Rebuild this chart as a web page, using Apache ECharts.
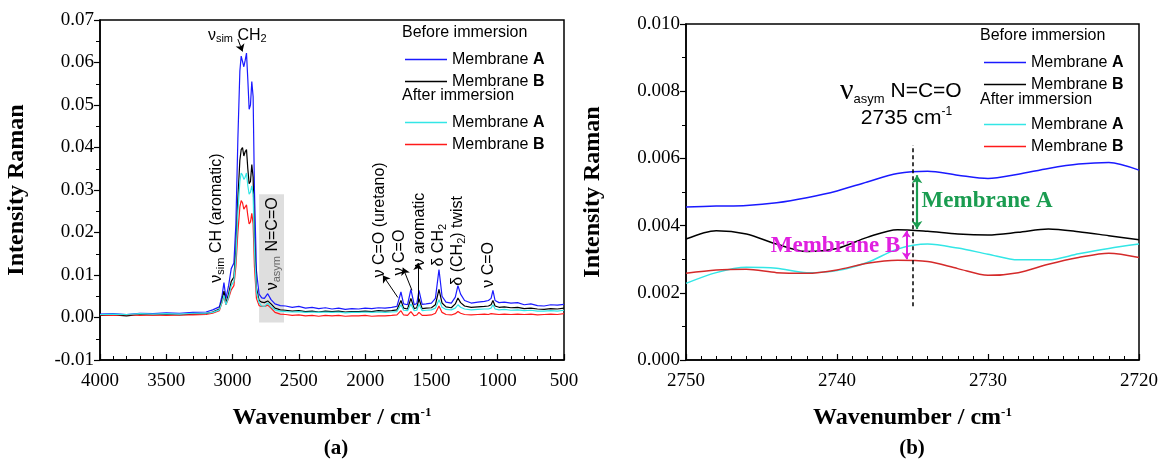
<!DOCTYPE html>
<html>
<head>
<meta charset="utf-8">
<script src="https://cdn.jsdelivr.net/npm/echarts@6/dist/echarts.min.js"></script>
<style>
  html, body { margin: 0; padding: 0; background: #fff; }
  #main { width: 1161px; height: 463px; }
</style>
</head>
<body>
<div id="main"></div>
<script>
// (a) full spectrum, wavenumber / cm-1
var wnFull = [4000, 3900, 3800, 3700, 3600, 3500, 3400, 3300, 3200,
  3150, 3100, 3080, 3065, 3050, 3030, 3010, 2990, 2975, 2960,
  2945, 2935, 2925, 2915, 2905, 2895, 2885, 2875, 2865, 2855,
  2845, 2835, 2820, 2800, 2780, 2760, 2735, 2710, 2680, 2640, 2600,
  2550, 2500, 2450, 2400, 2350, 2300, 2250, 2200, 2150, 2100, 2050, 2000, 1950, 1900, 1850, 1800, 1760,
  1730, 1710, 1680, 1655, 1630, 1610, 1594, 1570, 1540, 1500,
  1470, 1443, 1420, 1390, 1350, 1320, 1300, 1280, 1250, 1200,
  1150, 1100, 1070, 1050, 1036, 1020, 990, 950, 900, 850,
  800, 750, 700, 650, 600, 550, 500];
var fullBeforeA = [0.0008, 0.0009, 0.0007, 0.0010, 0.0009, 0.0011, 0.0010, 0.0012, 0.0013,
  0.0018, 0.0025, 0.0050, 0.0082, 0.0045, 0.0075, 0.0115, 0.0128, 0.0220, 0.0420,
  0.0580, 0.0615, 0.0618, 0.0590, 0.0605, 0.0622, 0.0560, 0.0490, 0.0500, 0.0555,
  0.0520, 0.0300, 0.0110, 0.0055, 0.0046, 0.0045, 0.0056, 0.0042, 0.0032, 0.0028, 0.0027,
  0.0024, 0.0026, 0.0022, 0.0024, 0.0021, 0.0023, 0.0020, 0.0022, 0.0019, 0.0021, 0.0020, 0.0022, 0.0021, 0.0023, 0.0022, 0.0024, 0.0026,
  0.0060, 0.0032, 0.0030, 0.0066, 0.0030, 0.0033, 0.0064, 0.0031, 0.0032, 0.0034,
  0.0045, 0.0113, 0.0050, 0.0036, 0.0034, 0.0048, 0.0075, 0.0055, 0.0040, 0.0034,
  0.0036, 0.0038, 0.0040, 0.0045, 0.0064, 0.0040, 0.0035, 0.0036, 0.0034, 0.0035,
  0.0030, 0.0032, 0.0028, 0.0027, 0.0030, 0.0029, 0.0031];
var fullBeforeB = [0.0005, 0.0006, 0.0004, 0.0007, 0.0006, 0.0007, 0.0006, 0.0008, 0.0009,
  0.0013, 0.0020, 0.0040, 0.0062, 0.0035, 0.0055, 0.0085, 0.0095, 0.0160, 0.0280,
  0.0370, 0.0395, 0.0400, 0.0380, 0.0390, 0.0395, 0.0350, 0.0315, 0.0320, 0.0360,
  0.0330, 0.0190, 0.0070, 0.0040, 0.0036, 0.0035, 0.0039, 0.0032, 0.0022, 0.0018, 0.0017,
  0.0015, 0.0016, 0.0014, 0.0015, 0.0013, 0.0015, 0.0014, 0.0015, 0.0013, 0.0014, 0.0014, 0.0015, 0.0014, 0.0016, 0.0015, 0.0016, 0.0018,
  0.0040, 0.0022, 0.0020, 0.0045, 0.0021, 0.0023, 0.0044, 0.0021, 0.0022, 0.0023,
  0.0030, 0.0066, 0.0034, 0.0025, 0.0023, 0.0032, 0.0046, 0.0035, 0.0027, 0.0024,
  0.0025, 0.0026, 0.0027, 0.0030, 0.0040, 0.0027, 0.0024, 0.0025, 0.0023, 0.0024,
  0.0021, 0.0022, 0.0020, 0.0019, 0.0021, 0.0020, 0.0022];
var fullAfterA = [0.0007, 0.0008, 0.0007, 0.0009, 0.0008, 0.0009, 0.0008, 0.0010, 0.0010,
  0.0012, 0.0018, 0.0035, 0.0052, 0.0030, 0.0048, 0.0075, 0.0085, 0.0140, 0.0250,
  0.0320, 0.0340, 0.0335, 0.0325, 0.0330, 0.0340, 0.0310, 0.0290, 0.0295, 0.0310,
  0.0290, 0.0160, 0.0060, 0.0035, 0.0027, 0.0026, 0.0034, 0.0025, 0.0018, 0.0015, 0.0014,
  0.0013, 0.0014, 0.0012, 0.0013, 0.0012, 0.0013, 0.0012, 0.0013, 0.0011, 0.0012, 0.0012, 0.0013, 0.0012, 0.0013, 0.0012, 0.0013, 0.0014,
  0.0030, 0.0017, 0.0016, 0.0032, 0.0016, 0.0017, 0.0031, 0.0016, 0.0017, 0.0018,
  0.0022, 0.0042, 0.0024, 0.0019, 0.0018, 0.0022, 0.0030, 0.0024, 0.0020, 0.0018,
  0.0019, 0.0020, 0.0020, 0.0022, 0.0030, 0.0020, 0.0018, 0.0019, 0.0017, 0.0018,
  0.0016, 0.0017, 0.0015, 0.0015, 0.0016, 0.0015, 0.0017];
var fullAfterB = [0.0006, 0.0005, 0.0007, 0.0005, 0.0006, 0.0005, 0.0006, 0.0006, 0.0007,
  0.0010, 0.0016, 0.0035, 0.0050, 0.0030, 0.0045, 0.0065, 0.0075, 0.0120, 0.0200,
  0.0260, 0.0275, 0.0270, 0.0255, 0.0260, 0.0265, 0.0240, 0.0220, 0.0225, 0.0245,
  0.0220, 0.0120, 0.0045, 0.0028, 0.0026, 0.0026, 0.0029, 0.0022, 0.0012, 0.0008, 0.0007,
  0.0005, 0.0006, 0.0004, 0.0005, 0.0003, 0.0005, 0.0004, 0.0005, 0.0003, 0.0004, 0.0004, 0.0005, 0.0003, 0.0004, 0.0004, 0.0005, 0.0006,
  0.0016, 0.0006, 0.0005, 0.0014, 0.0004, 0.0006, 0.0012, 0.0005, 0.0005, 0.0006,
  0.0010, 0.0027, 0.0012, 0.0007, 0.0006, 0.0009, 0.0014, 0.0010, 0.0007, 0.0006,
  0.0007, 0.0008, 0.0007, 0.0009, 0.0012, 0.0008, 0.0007, 0.0008, 0.0007, 0.0008,
  0.0007, 0.0008, 0.0006, 0.0007, 0.0008, 0.0007, 0.0009];

// (b) zoom on the N=C=O band
var wnZoom = [2750, 2748, 2746, 2744, 2742, 2740, 2738, 2736, 2734, 2732, 2730, 2728, 2726, 2724, 2722, 2720];
var zoomBeforeA = [0.00455, 0.00458, 0.00460, 0.00468, 0.00483, 0.00503, 0.00530, 0.00555, 0.00562, 0.00550, 0.00540, 0.00553, 0.00570, 0.00583, 0.00588, 0.00565];
var zoomBeforeB = [0.00360, 0.00385, 0.00375, 0.00345, 0.00323, 0.00332, 0.00365, 0.00388, 0.00383, 0.00375, 0.00372, 0.00380, 0.00390, 0.00382, 0.00370, 0.00358];
var zoomAfterA = [0.00228, 0.00260, 0.00276, 0.00273, 0.00260, 0.00266, 0.00290, 0.00330, 0.00345, 0.00333, 0.00315, 0.00298, 0.00298, 0.00316, 0.00332, 0.00345];
var zoomAfterB = [0.00258, 0.00268, 0.00270, 0.00260, 0.00258, 0.00268, 0.00288, 0.00297, 0.00293, 0.00272, 0.00252, 0.00260, 0.00285, 0.00305, 0.00318, 0.00305];

var fullTicks = { min: 500, max: 4000, interval: 500 };
var fullYTicks = { min: -0.01, max: 0.07, interval: 0.01 };
var zoomTicks = { min: 2720, max: 2750, interval: 10 };
var zoomYTicks = { min: 0, max: 0.010, interval: 0.002 };

var SERIF = 'Liberation Serif';
var SANS = 'Liberation Sans';

function zip(xs, ys) {
  return xs.map(function(x, i) { return [x, ys[i]]; });
}

function lineSeries(name, gi, xs, ys, color, width, extra) {
  var s = {
    name: name,
    type: 'line',
    xAxisIndex: gi,
    yAxisIndex: gi,
    data: zip(xs, ys),
    showSymbol: false,
    symbol: 'none',
    color: color,
    lineStyle: { color: color, width: width },
    animation: false
  };
  for (var k in extra) s[k] = extra[k];
  return s;
}

// tick labels as rich text so the serif face is forced on each token
var tickRich = { t: { fontFamily: SERIF, fontSize: 19, color: '#000' } };

function xAxisOf(gi, t, split) {
  return {
    type: 'value', gridIndex: gi, inverse: true,
    min: t.min, max: t.max, interval: t.interval,
    name: 'Wavenumber / cm{sup|-1}', nameLocation: 'middle', nameGap: 46,
    nameTextStyle: {
      fontFamily: SERIF, fontWeight: 'bold', fontSize: 24, color: '#000',
      rich: { sup: { fontFamily: SERIF, fontWeight: 'bold', fontSize: 13, verticalAlign: 'top', padding: [0, 0, 10, 0] } }
    },
    axisLine: { onZero: false, lineStyle: { color: '#000', width: 1.5 } },
    axisTick: { inside: true, length: 6, lineStyle: { color: '#000', width: 1.2 } },
    minorTick: { show: true, splitNumber: split, length: 4, lineStyle: { color: '#000', width: 1 } },
    axisLabel: {
      fontFamily: SERIF, fontSize: 19, color: '#000', margin: 12, rich: tickRich,
      formatter: function(v) { return '{t|' + Math.round(v) + '}'; }
    },
    splitLine: { show: false }
  };
}

function yAxisOf(gi, t, gap, digits) {
  return {
    type: 'value', gridIndex: gi,
    min: t.min, max: t.max, interval: t.interval,
    name: 'Intensity Raman', nameLocation: 'middle', nameGap: gap,
    nameTextStyle: { fontFamily: SERIF, fontWeight: 'bold', fontSize: 24, color: '#000' },
    axisLine: { onZero: false, lineStyle: { color: '#000', width: 1.5 } },
    axisTick: { inside: false, length: 6, lineStyle: { color: '#000', width: 1.2 } },
    minorTick: { show: true, splitNumber: 2, length: 4, lineStyle: { color: '#000', width: 1 } },
    axisLabel: {
      fontFamily: SERIF, fontSize: 19, color: '#000', margin: 6, rich: tickRich,
      formatter: function(v) { return '{t|' + (Math.abs(v) < 1e-9 ? 0 : v).toFixed(digits) + '}'; }
    },
    splitLine: { show: false }
  };
}

function legendOf(names, left, top) {
  return {
    data: names, orient: 'vertical', left: left, top: top,
    icon: 'rect', itemWidth: 42, itemHeight: 1.6, itemGap: 5,
    selectedMode: false,
    formatter: function(n) { return 'Membrane {b|' + n.slice(-1) + '}'; },
    textStyle: {
      fontFamily: SANS, fontSize: 16, color: '#000', lineHeight: 17,
      rich: { b: { fontFamily: SANS, fontSize: 16, fontWeight: 'bold', color: '#000' } }
    }
  };
}

var RED_B = '#d42a2a';

var option = {
  backgroundColor: '#fff',
  animation: false,
  textStyle: { fontFamily: SERIF },
  grid: [
    { left: 100, top: 20, width: 464, height: 340, show: true, borderColor: '#000', borderWidth: 1.5 },
    { left: 686, top: 24, width: 453, height: 336, show: true, borderColor: '#000', borderWidth: 1.5 }
  ],
  xAxis: [
    xAxisOf(0, fullTicks, 5),
    xAxisOf(1, zoomTicks, 10)
  ],
  yAxis: [
    yAxisOf(0, fullYTicks, 71, 2),
    yAxisOf(1, zoomYTicks, 81, 3)
  ],
  legend: [
    legendOf(['before A', 'before B'], 400, 46),
    legendOf(['after A', 'after B'], 400, 109),
    legendOf(['before A', 'before B'], 979, 49),
    legendOf(['after A', 'after B'], 979, 111)
  ],
  series: [
    lineSeries('before A', 0, wnFull, fullBeforeA, '#1a1aff', 1.2, {
      markLine: {
        silent: true, symbol: ['none', 'arrow'], symbolSize: 7,
        label: { show: false },
        lineStyle: { color: '#000', width: 1, type: 'solid' },
        data: [
          [{ coord: [2960, 0.0655] }, { coord: [2925, 0.0626] }],
          [{ coord: [1753, 0.0047] }, { coord: [1866, 0.0099] }],
          [{ coord: [1647, 0.0064] }, { coord: [1715, 0.0117] }],
          [{ coord: [1602, 0.0036] }, { coord: [1602, 0.0128] }]
        ]
      }
    }),
    lineSeries('before B', 0, wnFull, fullBeforeB, '#000000', 1.2),
    lineSeries('after B', 0, wnFull, fullAfterB, '#ff1a1a', 1.2),
    lineSeries('after A', 0, wnFull, fullAfterA, '#33e6e6', 1.2, {
      markArea: {
        silent: true,
        itemStyle: { color: 'rgba(200,200,200,0.6)' },
        data: [[{ coord: [2800, 0.029] }, { coord: [2612, -0.0012] }]]
      }
    }),
    lineSeries('before A', 1, wnZoom, zoomBeforeA, '#1a1aff', 1.5, {
      smooth: 0.3,
      markLine: {
        silent: true, symbol: ['none', 'none'],
        label: { show: false },
        data: [
          [{ coord: [2735, 0.0016], lineStyle: { color: '#000', width: 1.5, type: [4, 3] } },
           { coord: [2735, 0.0064] }],
          [{ coord: [2734.7, 0.0055], symbol: 'arrow', symbolSize: 8, lineStyle: { color: '#1a9c50', width: 2.2, type: 'solid' } },
           { coord: [2734.7, 0.0039], symbol: 'arrow', symbolSize: 8 }],
          [{ coord: [2735.4, 0.00385], symbol: 'arrow', symbolSize: 7, lineStyle: { color: '#e020e0', width: 2, type: 'solid' } },
           { coord: [2735.4, 0.00300], symbol: 'arrow', symbolSize: 7 }]
        ]
      }
    }),
    lineSeries('before B', 1, wnZoom, zoomBeforeB, '#000000', 1.5, { smooth: 0.3 }),
    lineSeries('after A', 1, wnZoom, zoomAfterA, '#33e6e6', 1.5, { smooth: 0.3 }),
    lineSeries('after B', 1, wnZoom, zoomAfterB, RED_B, 1.5, { smooth: 0.3 })
  ]
};

var chart = echarts.init(document.getElementById('main'));
chart.setOption(option);

// annotations, anchored in data space
function px(gi, w, v) {
  return chart.convertToPixel({ gridIndex: gi }, [w, v]);
}

var richSans = {
  n: { fontFamily: SANS, fontSize: 16, lineHeight: 19, verticalAlign: 'middle' },
  s: { fontFamily: SANS, fontSize: 11, lineHeight: 19, verticalAlign: 'bottom' },
  g: { fontFamily: SANS, fontSize: 11, lineHeight: 19, verticalAlign: 'bottom', fill: '#666' }
};

function vText(w, v, text) {
  var p = px(0, w, v);
  return {
    type: 'text', x: p[0], y: p[1], rotation: Math.PI / 2, z: 100,
    style: { text: text, rich: richSans, fill: '#000', fontFamily: SANS, fontSize: 16, align: 'left', verticalAlign: 'middle' }
  };
}

function hText(gi, w, v, text, rich, align, extra) {
  var p = px(gi, w, v);
  var st = { text: text, rich: rich, fill: '#000', align: align || 'left', verticalAlign: 'middle' };
  for (var k in extra) st[k] = extra[k];
  return { type: 'text', x: p[0], y: p[1], z: 100, style: st };
}

var labelPos = [
  ['Before immersion', 402, 33], ['After immersion', 402, 96],
  ['Before immersion', 980, 36], ['After immersion', 980, 100]
];

var graphics = [
  hText(0, 3186, 0.0664, '{n|ν}{s|sim}{n| CH}{s|2}', richSans, 'left'),
  vText(3118, 0.0082, '{n|ν}{s|sim}{n| CH (aromatic)}'),
  vText(2695, 0.0064, '{n|ν}{g|asym}{n| N=C=O}'),
  vText(1888, 0.0094, '{n|ν C=O (uretano)}'),
  vText(1738, 0.0099, '{n|ν C=O}'),
  vText(1587, 0.0120, '{n|ν aromatic}'),
  vText(1443, 0.0120, '{n|δ CH}{s|2}'),
  vText(1300, 0.0075, '{n|δ (CH}{s|2}{n|) twist}'),
  vText(1066, 0.0070, '{n|ν C=O}'),
  hText(1, 2739.8, 0.0080, '{v|ν}{s|asym}{n| N=C=O}', {
    v: { fontFamily: SERIF, fontSize: 30, lineHeight: 30, verticalAlign: 'middle' },
    s: { fontFamily: SANS, fontSize: 13, lineHeight: 30, verticalAlign: 'bottom' },
    n: { fontFamily: SANS, fontSize: 21, lineHeight: 30, verticalAlign: 'middle' }
  }, 'left'),
  hText(1, 2735.4, 0.0072, '{n|2735 cm}{p|-1}', {
    n: { fontFamily: SANS, fontSize: 21, lineHeight: 24, verticalAlign: 'middle' },
    p: { fontFamily: SANS, fontSize: 12, lineHeight: 24, verticalAlign: 'top' }
  }, 'center'),
  hText(1, 2734.4, 0.00474, 'Membrane A', null, 'left',
    { fontFamily: SERIF, fontWeight: 'bold', fontSize: 23, fill: '#1a9c50' }),
  hText(1, 2735.8, 0.00338, 'Membrane B', null, 'right',
    { fontFamily: SERIF, fontWeight: 'bold', fontSize: 23, fill: '#e020e0' }),
  { type: 'text', x: 336, y: 449, style: { text: '(a)', fontFamily: SERIF, fontWeight: 'bold', fontSize: 21, fill: '#000', align: 'center', verticalAlign: 'middle' } },
  { type: 'text', x: 912, y: 449, style: { text: '(b)', fontFamily: SERIF, fontWeight: 'bold', fontSize: 21, fill: '#000', align: 'center', verticalAlign: 'middle' } }
];

labelPos.forEach(function(h) {
  graphics.push({ type: 'text', x: h[1], y: h[2], z: 100,
    style: { text: h[0], fontFamily: SANS, fontSize: 16, fill: '#000', align: 'left', verticalAlign: 'middle' } });
});

chart.setOption({ graphic: graphics });
</script>
</body>
</html>
